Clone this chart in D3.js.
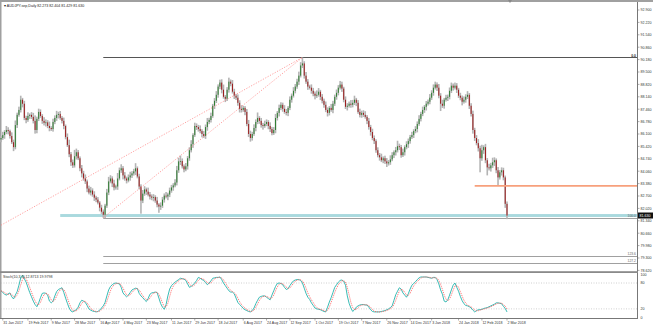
<!DOCTYPE html>
<html><head><meta charset="utf-8">
<script src="https://cdn.jsdelivr.net/npm/d3@7"></script>
<style>body{margin:0;background:#fff}svg{display:block}text{font-family:"Liberation Sans",Arial,sans-serif}</style>
</head><body><svg id="c" width="653" height="327"></svg>
<script>
// ---- data ----
const closes=[
85.88,86.04,86.21,86.32,86.26,85.99,85.65,85.38,86.59,87.15,
87.42,87.98,87.76,86.98,86.87,87.09,87.15,87.04,86.82,86.32,
86.93,87.31,87.09,86.82,86.71,86.74,86.54,86.43,86.37,86.76,
86.98,87.15,87.20,86.98,86.82,86.54,85.93,85.49,84.99,84.55,
84.38,84.88,85.10,84.77,84.22,83.94,83.66,83.50,83.11,82.89,
83.00,82.78,82.61,82.50,82.34,82.06,81.84,81.67,82.17,82.89,
83.50,83.66,83.39,83.17,83.22,83.66,84.11,84.22,83.83,83.66,
83.55,83.72,83.83,83.94,84.05,84.22,83.77,83.22,82.45,82.83,
83.06,82.94,82.78,82.67,82.61,82.64,82.45,82.23,82.12,82.17,
82.50,82.72,82.67,82.78,83.00,83.17,83.28,83.44,84.11,84.60,
84.62,84.33,84.16,84.33,84.77,85.21,85.54,86.04,86.54,86.48,
86.37,86.26,86.10,85.99,86.48,86.76,86.87,87.09,87.65,87.92,
88.25,88.70,88.92,88.53,88.14,88.03,88.53,88.97,88.86,88.42,
88.20,88.09,87.81,87.48,87.42,87.53,87.31,86.65,86.10,85.88,
86.10,86.43,86.76,86.98,86.82,86.59,86.54,86.65,86.76,86.54,
86.37,86.15,86.32,86.98,87.26,87.53,87.70,87.48,87.31,87.26,
87.53,87.98,88.20,88.47,88.70,88.97,89.30,89.86,89.97,89.30,
88.97,88.70,88.64,88.47,88.31,88.20,88.25,88.42,88.14,87.92,
87.70,87.42,87.26,87.53,87.42,87.76,88.14,88.36,88.64,88.81,
88.59,87.98,87.59,87.65,87.76,87.70,87.81,87.98,87.81,87.31,
87.15,87.26,87.15,87.04,86.82,86.48,86.21,85.88,85.71,85.21,
84.94,84.82,84.66,84.77,84.60,84.49,84.55,84.71,84.94,85.10,
85.21,85.43,85.38,84.94,85.10,85.38,85.54,85.71,85.93,86.04,
86.26,86.37,86.65,86.93,87.20,87.42,87.59,87.76,87.87,88.09,
88.36,88.64,88.81,88.64,88.20,87.76,87.65,87.98,88.09,88.14,
88.47,88.75,88.64,88.75,88.53,88.20,88.09,87.87,87.98,88.14,
88.25,87.65,87.20,86.32,85.88,85.60,85.32,84.77,85.21,85.38,
84.66,84.27,84.22,84.38,84.55,84.66,84.11,83.72,84.00,84.11,
83.72,82.27,81.63];
const firstOpen=85.80; // open of first bar; later opens = previous close
const upWick=[
.12,.18,.10,.22,.15,.08,.20,.14,.25,.12,.18,.22,.10,.16,.12,.20,.08,.15,.22,.30,
.12,.18,.14,.10,.20,.16,.12,.24,.10,.18,.14,.22,.12,.16,.10,.18,.08,.20,.30,.12,
.15,.35,.20,.12,.10,.18,.14,.22,.10,.16,.20,.12,.18,.10,.14,.08,.16,.12,.10,.20,
.25,.18,.12,.20,.10,.30,.15,.22,.12,.18,.10,.16,.20,.12,.14,.28,.10,.15,.12,.20,
.18,.10,.22,.14,.12,.16,.10,.20,.08,.18,.15,.12,.20,.10,.16,.14,.12,.18,.24,.20,
.30,.14,.10,.18,.12,.16,.22,.10,.18,.14,.12,.20,.10,.16,.14,.22,.12,.18,.10,.15,
.20,.12,.16,.18,.28,.10,.14,.22,.12,.20,.16,.10,.18,.14,.20,.12,.10,.16,.22,.18,
.12,.20,.14,.30,.10,.16,.12,.18,.14,.10,.20,.12,.16,.22,.10,.18,.14,.12,.20,.16,
.10,.18,.12,.20,.14,.16,.22,.18,.33,.12,.20,.14,.10,.18,.16,.12,.24,.20,.10,.15,
.12,.18,.14,.10,.22,.16,.12,.18,.14,.20,.16,.10,.18,.14,.12,.20,.16,.22,.10,.15,
.18,.12,.14,.20,.10,.16,.12,.18,.14,.10,.16,.12,.20,.10,.14,.18,.12,.22,.16,.10,
.18,.30,.14,.12,.20,.10,.16,.14,.12,.18,.10,.16,.14,.20,.12,.18,.10,.15,.12,.20,
.14,.18,.16,.12,.20,.14,.22,.10,.16,.12,.18,.17,.12,.17,.14,.10,.16,.12,.18,.14,
.20,.10,.14,.18,.12,.16,.22,.14,.30,.10,.18,.12,.20,.14,.25,.16,.10,.18,.12,.16,
.14,.10,.13];
const downWick=[
.15,.10,.20,.12,.18,.14,.10,.22,.12,.16,.10,.14,.20,.12,.18,.10,.16,.12,.14,.20,
.18,.12,.10,.16,.14,.20,.12,.18,.10,.14,.12,.16,.20,.10,.14,.18,.12,.10,.16,.20,
.14,.12,.18,.10,.16,.22,.12,.14,.20,.10,.16,.12,.18,.14,.10,.20,.12,.16,.18,.12,
.14,.10,.20,.16,.12,.18,.10,.14,.22,.12,.16,.10,.18,.14,.12,.20,.10,.16,.72,.14,
.12,.18,.10,.16,.14,.20,.12,.15,.34,.18,.12,.16,.10,.20,.14,.12,.18,.10,.16,.14,
.20,.12,.16,.10,.18,.14,.12,.20,.10,.16,.14,.12,.18,.10,.16,.20,.12,.14,.10,.18,
.12,.16,.14,.20,.10,.18,.12,.16,.14,.10,.18,.12,.16,.20,.14,.10,.18,.12,.16,.20,
.14,.10,.18,.12,.16,.14,.20,.10,.12,.18,.16,.12,.10,.18,.14,.20,.12,.16,.10,.14,
.18,.12,.16,.10,.14,.12,.18,.10,.14,.16,.12,.18,.10,.16,.14,.20,.12,.10,.18,.14,
.16,.12,.20,.14,.10,.18,.12,.16,.14,.10,.18,.14,.12,.20,.10,.16,.14,.12,.18,.10,
.14,.16,.12,.10,.18,.14,.20,.12,.16,.14,.12,.18,.10,.16,.14,.20,.12,.14,.10,.16,
.18,.12,.16,.14,.10,.18,.12,.20,.14,.10,.16,.12,.18,.10,.14,.12,.16,.20,.10,.14,
.12,.16,.10,.18,.14,.40,.12,.16,.10,.18,.14,.12,.16,.10,.18,.12,.14,.20,.10,.16,
.12,.18,.14,.20,.16,.12,.18,.77,.14,.20,.16,.44,.12,.18,.14,.20,.16,.44,.12,.18,
.16,.22,.20];
const stochK=[
62,58,54,52,55,57,48,43,52,60,75,92,98,90,82,70,58,48,38,30,
25,34,46,56,57,56,52,38,34,38,50,60,65,67,69,58,45,33,22,15,
13,16,18,24,34,40,38,35,28,20,17,15,14,13,14,17,22,27,35,50,
64,72,76,79,80,79,78,70,57,52,48,52,58,64,66,68,67,56,50,46,
41,37,44,54,57,58,59,58,45,32,24,19,30,50,66,74,78,82,85,88,
91,90,89,86,78,70,72,76,80,86,93,91,88,86,81,76,80,85,91,92,
93,93,94,88,80,74,68,62,59,59,55,45,35,30,26,21,18,16,14,13,
16,22,32,40,47,49,50,50,47,44,41,52,62,72,79,80,79,76,70,65,
67,74,80,85,87,88,88,86,80,68,56,47,42,34,28,22,20,19,18,16,
14,13,24,36,46,58,70,76,82,86,87,84,75,50,33,22,14,18,24,27,
29,30,30,29,29,24,18,14,13,13,13,13,14,15,16,18,20,23,27,40,
53,61,69,66,57,52,47,55,66,75,79,83,88,92,94,94,94,94,93,92,
91,93,93,88,78,64,54,38,36,41,52,64,75,80,70,61,49,39,32,28,
27,25,22,17,13,16,18,18,19,21,22,23,25,27,29,31,34,34,33,32,
26,21,12.87];
const priceTicks=["78.620","79.300","79.980","80.660","81.340","82.020","82.700","83.380","84.060","84.740","85.420","86.100","86.780","87.460","88.140","88.820","89.500","90.180","90.860","91.540","92.220","92.900"];
const stochTicks=[100,80,20,0];
const stochLevels=[80,20];
const dateLabels=["31 Jan 2017","19 Feb 2017","9 Mar 2017","28 Mar 2017","16 Apr 2017","4 May 2017","23 May 2017","11 Jun 2017","29 Jun 2017","18 Jul 2017","6 Aug 2017","24 Aug 2017","12 Sep 2017","1 Oct 2017","19 Oct 2017","7 Nov 2017","26 Nov 2017","14 Dec 2017","3 Jan 2018","24 Jan 2018","12 Feb 2018","2 Mar 2018"];
const firstDay="2017-01-30", lastDay="2018-03-02", holidays=["2017-12-25","2018-01-01"];
const fibStartIdx=57;
const fibPrices=[90.30,81.51,79.40,79.03];
const fibLabels=["0.0","100.0","123.6","127.2"];
const bandStartIdx=33, bandLow=81.55, bandHigh=81.71;
const orangeStartIdx=264, orangePrice=83.25;
const trendStartIdx=[0,57], trendStartPrice=[81.10,81.51], trendEndIdx=[168,168], trendEndPrice=[90.30,90.30];
const currentPrice="81.630";
const titleText="AUDJPY.sep,Daily  82.273 82.404 81.429 81.630";
const stochTitle="Stoch(10,3,3) 12.8713 19.9798";

// ---- build ----
const fmt=d3.utcFormat("%Y-%m-%d");
const days=d3.utcDays(new Date(firstDay+"T00:00Z"),d3.utcDay.offset(new Date(lastDay+"T00:00Z"),1))
  .filter(d=>d.getUTCDay()!==0&&d.getUTCDay()!==6&&!holidays.includes(fmt(d)));
const parseLbl=d3.utcParse("%d %b %Y");
const bars=closes.map((c,i)=>{const o=i?closes[i-1]:firstOpen;return{i,date:days[i],o,c,h:Math.max(o,c)+upWick[i],l:Math.min(o,c)-downWick[i]};});

const W=653,H=327,axisX=637;
const svg=d3.select("#c");
const x=d3.scaleLinear().domain([0,closes.length-1]).range([1,507]);
const y=d3.scaleLinear().domain([79.30,92.90]).range([258,10]);
const ys=d3.scaleLinear().domain([0,100]).range([317.5,274.4]);

svg.append("rect").attr("width",W).attr("height",H).attr("fill","#fff");
// frame
svg.append("rect").attr("x",0).attr("y",0).attr("width",W).attr("height",2).attr("fill","#a0a0a0");
svg.append("rect").attr("x",0).attr("y",0).attr("width",1.5).attr("height",318).attr("fill","#a0a0a0");

// cyan band
svg.append("rect").attr("x",x(bandStartIdx)).attr("y",y(bandHigh)).attr("width",axisX-x(bandStartIdx)).attr("height",y(bandLow)-y(bandHigh)).attr("fill","#a9d9de");
// fib lines
fibPrices.forEach((p,k)=>{
  svg.append("line").attr("x1",x(fibStartIdx)).attr("x2",axisX).attr("y1",Math.round(y(p))+0.5).attr("y2",Math.round(y(p))+0.5).attr("stroke",k===0?"#555":"#888").attr("stroke-width",k===0?1.2:0.8);
  svg.append("text").attr("x",axisX-1).attr("y",y(p)-0.8).attr("text-anchor","end").attr("font-size",3.4).attr("fill",k===0?"#222":"#666").attr("font-weight",k===0?"bold":"normal").text(fibLabels[k]);
});

// candles
const cg=svg.append("g");
cg.selectAll("rect.w").data(bars).join("rect").attr("class","w")
  .attr("x",d=>x(d.i)-0.8).attr("width",1.6).attr("y",d=>y(d.h)).attr("height",d=>y(d.l)-y(d.h)).attr("fill","#b4b4b4");
cg.selectAll("rect.b").data(bars).join("rect").attr("class","b")
  .attr("x",d=>x(d.i)-0.5).attr("width",1).attr("y",d=>y(Math.max(d.o,d.c)))
  .attr("height",d=>Math.max(0.8,Math.abs(y(d.o)-y(d.c)))).attr("fill",d=>d.c>=d.o?"#2f7d32":"#9b1c1c");

// orange line
svg.append("line").attr("x1",x(orangeStartIdx)).attr("x2",axisX).attr("y1",y(orangePrice)).attr("y2",y(orangePrice)).attr("stroke","#f7a07c").attr("stroke-width",1.8);
// trend lines
trendStartIdx.forEach((s,k)=>{
  svg.append("line").attr("x1",x(s)).attr("y1",y(trendStartPrice[k])).attr("x2",x(trendEndIdx[k])).attr("y2",y(trendEndPrice[k]))
    .attr("stroke","#ff8a8a").attr("stroke-width",0.8).attr("stroke-dasharray","1.2,1.5");
});

// title
svg.append("text").attr("x",4).attr("y",6.5).attr("font-size",3.6).attr("fill","#222").text("\u25BE "+titleText);
// small marker top
svg.append("path").attr("d","M508,0 L512,0 L510,3 Z").attr("fill","#888");

// price axis
svg.append("line").attr("x1",axisX+0.5).attr("x2",axisX+0.5).attr("y1",2).attr("y2",318).attr("stroke","#777");
priceTicks.forEach(t=>{
  const yy=y(+t);
  svg.append("line").attr("x1",axisX).attr("x2",axisX+2.5).attr("y1",yy).attr("y2",yy).attr("stroke","#777").attr("stroke-width",0.6);
  svg.append("text").attr("x",axisX+3.5).attr("y",yy+1.3).attr("font-size",3.6).attr("fill","#333").text(t);
});
// current price box
svg.append("rect").attr("x",axisX+1).attr("y",y(+currentPrice)-3).attr("width",15).attr("height",6).attr("fill","#111");
svg.append("text").attr("x",axisX+2.5).attr("y",y(+currentPrice)+1.3).attr("font-size",3.6).attr("fill","#fff").text(currentPrice);

// window separator
svg.append("rect").attr("x",0).attr("y",271.2).attr("width",axisX+1).attr("height",1.8).attr("fill","#8a8a8a");

// stochastic
stochLevels.forEach(l=>{
  svg.append("line").attr("x1",1).attr("x2",axisX).attr("y1",ys(l)).attr("y2",ys(l)).attr("stroke","#bdbdbd").attr("stroke-width",0.7).attr("stroke-dasharray","1,1.5");
});
const stochD=stochK.map((v,i)=>d3.mean(stochK.slice(Math.max(0,i-2),i+1)));
const line=d3.line().x((d,i)=>x(i)).y(d=>ys(d)).curve(d3.curveLinear);
svg.append("path").attr("d",line(stochK)).attr("fill","none").attr("stroke","#23b3ad").attr("stroke-width",0.9);
svg.append("path").attr("d",line(stochD)).attr("fill","none").attr("stroke","#ff5a5a").attr("stroke-width",0.9).attr("stroke-dasharray","1,1");
svg.append("text").attr("x",3).attr("y",278).attr("font-size",3.6).attr("fill","#333").text(stochTitle);
stochTicks.forEach(t=>{
  svg.append("text").attr("x",axisX+3.5).attr("y",ys(t)+1.3).attr("font-size",3.6).attr("fill","#333").text(t);
});

// time axis
svg.append("line").attr("x1",0).attr("x2",axisX+1).attr("y1",318.5).attr("y2",318.5).attr("stroke","#777");
dateLabels.forEach(s=>{
  const d=parseLbl(s);
  let idx=days.findIndex(v=>v>=d); if(idx<0) idx=days.length-1;
  const xx=x(idx);
  svg.append("line").attr("x1",xx).attr("x2",xx).attr("y1",318.5).attr("y2",320.5).attr("stroke","#777").attr("stroke-width",0.6);
  svg.append("text").attr("x",xx+0.5).attr("y",324.2).attr("font-size",3.6).attr("fill","#333").text(s);
});
</script></body></html>
